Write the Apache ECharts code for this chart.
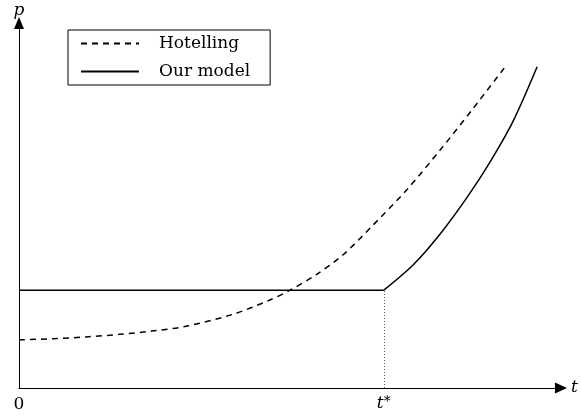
<!DOCTYPE html>
<html>
<head>
<meta charset="utf-8">
<script src="https://cdn.jsdelivr.net/npm/echarts@6/dist/echarts.min.js"></script>
<style>
  html, body { margin: 0; padding: 0; background: #fff; }
  #chart { width: 581px; height: 417px; }
</style>
</head>
<body>
<div id="chart"></div>
<script>
// Price paths over time: Hotelling rule vs. our model (arbitrary units)
const hotellingT = [0, 6.1, 12.4, 18.5, 24.5, 30.8, 39.5, 45.8, 50.0, 55.0, 59.8, 65.3, 71.6, 77.7, 83.8, 89.7];
const hotellingP = [13.2, 13.5, 14.0, 14.7, 15.6, 16.9, 20.2, 23.8, 26.8, 31.2, 36.5, 44.6, 54.4, 65.2, 76.6, 88.0];

// Our model: constant price until t*, then rising
const tStar = 67.3;
const flatPrice = 26.8;
const flatT = [0, tStar];
const riseT = [67.3, 72.7, 77.7, 82.7, 86.9, 91.1, 95.6];
const riseP = [26.8, 33.7, 42.2, 52.3, 61.9, 72.9, 88.0];

const seriesNames = ['Hotelling', 'Our model'];
const serif = 'DejaVu Serif';

const zip = (xs, ys) => xs.map((x, i) => [x, ys[i]]);

const chart = echarts.init(document.getElementById('chart'), null, { renderer: 'canvas' });

chart.setOption({
  animation: false,
  backgroundColor: '#fff',
  grid: { left: 19, right: 20, top: 23, bottom: 29, containLabel: false, outerBoundsMode: 'none' },
  legend: {
    orient: 'vertical',
    left: 68,
    top: 30,
    data: seriesNames,
    itemWidth: 58,
    itemHeight: 14,
    itemGap: 11,
    padding: [5, 20, 5, 12],
    borderColor: '#000',
    borderWidth: 1,
    backgroundColor: '#fff',
    selectedMode: false,
    itemStyle: { opacity: 0 },
    formatter: '{a|{name}}',
    textStyle: {
      color: '#000',
      fontFamily: serif,
      fontSize: 17,
      rich: { a: { fontFamily: serif, fontSize: 17, color: '#000', padding: [0, 0, 0, 15] } }
    }
  },
  xAxis: {
    type: 'value',
    min: 0,
    max: 100,
    interval: 10,
    name: 't',
    nameLocation: 'end',
    nameGap: 10,
    nameTextStyle: { fontFamily: serif, fontStyle: 'italic', fontSize: 17, color: '#000' },
    axisLine: { show: true, lineStyle: { color: '#000', width: 1 }, symbol: ['none', 'triangle'], symbolSize: [11, 12] },
    axisTick: { show: false },
    splitLine: { show: false },
    axisLabel: {
      show: true,
      margin: 8,
      color: '#000',
      fontFamily: serif,
      fontSize: 17,
      formatter: v => (v === 0 ? '0' : '')
    }
  },
  yAxis: {
    type: 'value',
    min: 0,
    max: 100,
    interval: 10,
    name: 'p',
    nameLocation: 'end',
    nameGap: 4,
    nameTextStyle: { fontFamily: serif, fontStyle: 'italic', fontSize: 17, color: '#000' },
    axisLine: { show: true, lineStyle: { color: '#000', width: 1 }, symbol: ['none', 'triangle'], symbolSize: [10, 12] },
    axisTick: { show: false },
    splitLine: { show: false },
    axisLabel: { show: false }
  },
  series: [
    {
      name: 'Hotelling',
      type: 'line',
      data: zip(hotellingT, hotellingP),
      showSymbol: false,
      symbol: 'none',
      smooth: 0.3,
      lineStyle: { color: '#000', width: 1.5, type: [6, 5] },
      itemStyle: { color: '#000' }
    },
    {
      name: 'Our model',
      type: 'line',
      data: flatT.map(t => [t, flatPrice]),
      showSymbol: false,
      symbol: 'none',
      lineStyle: { color: '#000', width: 1.5 },
      itemStyle: { color: '#000' },
      markLine: {
        silent: true,
        symbol: ['none', 'none'],
        lineStyle: { color: '#555', width: 1, type: [1, 2] },
        label: {
          show: true,
          position: 'start',
          distance: 7,
          formatter: '{t|t}{s|*}',
          rich: {
            t: { fontFamily: serif, fontStyle: 'italic', fontSize: 17, color: '#000' },
            s: { fontFamily: serif, fontSize: 14, color: '#000', verticalAlign: 'top' }
          }
        },
        data: [[{ coord: [tStar, 0] }, { coord: [tStar, flatPrice] }]]
      }
    },
    {
      name: 'Our model',
      type: 'line',
      data: zip(riseT, riseP),
      showSymbol: false,
      symbol: 'none',
      smooth: 0.3,
      lineStyle: { color: '#000', width: 1.5 },
      itemStyle: { color: '#000' }
    }
  ]
});
</script>
</body>
</html>
